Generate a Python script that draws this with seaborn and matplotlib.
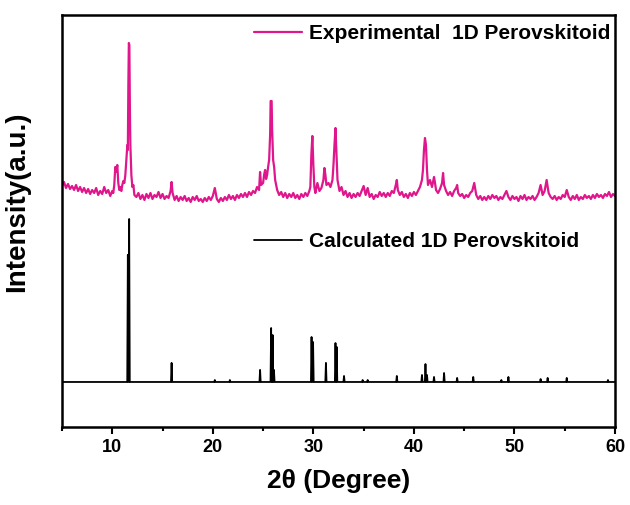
import numpy as np
import pandas as pd
import matplotlib
matplotlib.use("Agg")
import matplotlib.pyplot as plt
from matplotlib.ticker import MultipleLocator
import seaborn as sns

# experimental XRD trace (a.u.)
exp_two_theta = [
    5.0, 5.2, 5.4, 5.6, 5.8, 6.0, 6.2, 6.4, 6.6, 6.8, 7.0, 7.2, 7.4, 7.6, 7.8, 8.0, 8.2, 8.4, 8.6, 8.8, 9.0, 9.2, 9.4, 9.6, 9.8, 10.0,
    10.1, 10.2, 10.3, 10.4, 10.5, 10.6, 10.7, 10.8, 10.9, 11.0, 11.1, 11.2, 11.3, 11.4, 11.5, 11.55, 11.6, 11.65, 11.7, 11.75, 11.8, 11.9, 12.0, 12.1, 12.2,
    12.4, 12.6, 12.8, 13.0, 13.2, 13.4, 13.6, 13.8, 14.0, 14.2, 14.4, 14.6, 14.8, 15.0, 15.2, 15.4, 15.6, 15.8, 15.9, 16.0, 16.2,
    16.4, 16.6, 16.8, 17.0, 17.2, 17.4, 17.6, 17.8, 18.0, 18.2, 18.4, 18.6, 18.8, 19.0, 19.2, 19.4, 19.6, 19.8, 20.0,
    20.2, 20.4, 20.6, 20.8, 21.0, 21.2, 21.4, 21.6, 21.8, 22.0, 22.2, 22.4, 22.6, 22.8, 23.0, 23.2, 23.4, 23.6, 23.8, 24.0, 24.2, 24.4, 24.6,
    24.7, 24.8, 25.0, 25.1, 25.2, 25.3, 25.4, 25.5, 25.6, 25.7, 25.75, 25.85, 25.9, 26.0, 26.1, 26.2, 26.4,
    26.6, 26.8, 27.0, 27.2, 27.4, 27.6, 27.8, 28.0, 28.2, 28.4, 28.6, 28.8, 29.0, 29.2, 29.4, 29.6,
    29.7, 29.8, 29.9, 30.0, 30.1, 30.2, 30.4, 30.6, 30.8, 31.0, 31.1, 31.2, 31.3, 31.5, 31.7, 31.9, 32.0, 32.1, 32.2, 32.3, 32.4, 32.6, 32.8,
    33.0, 33.2, 33.4, 33.6, 33.8, 34.0, 34.2, 34.4, 34.6, 34.8,
    35.0, 35.2, 35.4, 35.6, 35.8, 36.0, 36.2, 36.4, 36.6, 36.8, 37.0, 37.2, 37.4, 37.6, 37.8, 38.0, 38.2, 38.3, 38.4,
    38.6, 38.8, 39.0, 39.2, 39.4, 39.6, 39.8, 40.0, 40.2, 40.4, 40.6, 40.8,
    40.9, 41.0, 41.1, 41.2, 41.3, 41.4, 41.6, 41.8, 42.0, 42.1, 42.2, 42.4, 42.6, 42.8, 42.9, 43.0,
    43.2, 43.4, 43.6, 43.8, 44.0, 44.2, 44.3, 44.4, 44.6, 44.8,
    45.0, 45.2, 45.4, 45.6, 45.8, 46.0, 46.2, 46.4, 46.6, 46.8, 47.0, 47.2, 47.4, 47.6, 47.8, 48.0, 48.2, 48.4, 48.6, 48.8,
    49.0, 49.2, 49.4, 49.6, 49.8, 50.0, 50.2, 50.4, 50.6, 50.8, 51.0, 51.2, 51.4, 51.6, 51.8, 52.0, 52.2, 52.4, 52.6, 52.8,
    53.0, 53.2, 53.4, 53.6, 53.8, 54.0, 54.2, 54.4, 54.6, 54.8, 55.0, 55.2, 55.4, 55.6, 55.8, 56.0, 56.2, 56.4, 56.6, 56.8,
    57.0, 57.2, 57.4, 57.6, 57.8, 58.0, 58.2, 58.4, 58.6, 58.8, 59.0, 59.2, 59.4, 59.6, 59.8, 60.0,
]
exp_counts = [
    19, 23, 17, 21, 16, 19, 15, 20, 14, 18, 13, 17, 12, 16, 11, 15, 12, 17, 10, 14, 11, 18, 12, 15, 9, 14,
    12, 20, 38, 33, 40, 22, 15, 18, 14, 20, 24, 22, 30, 45, 60, 55, 120, 162, 160, 100, 60, 30, 18, 20, 10,
    8, 12, 6, 10, 5, 11, 7, 12, 6, 10, 8, 13, 7, 11, 6, 9, 7, 14, 23, 12, 5,
    9, 4, 8, 5, 9, 4, 7, 3, 8, 5, 9, 4, 6, 3, 7, 4, 8, 5, 9,
    17, 6, 3, 7, 4, 8, 5, 10, 6, 9, 5, 10, 7, 11, 8, 12, 8, 13, 10, 14, 12, 18, 15,
    33, 20, 22, 30, 35, 26, 30, 38, 45, 70, 104, 104, 75, 45, 38, 25, 15,
    10, 13, 8, 12, 7, 11, 8, 12, 7, 10, 6, 11, 8, 12, 9, 14,
    18, 50, 69, 40, 18, 12, 22, 14, 17, 25, 37, 30, 20, 22, 18, 25, 40, 60, 77, 50, 25, 14, 18,
    10, 14, 8, 12, 7, 11, 8, 12, 9, 14,
    19, 10, 17, 8, 11, 6, 10, 8, 13, 9, 12, 8, 12, 9, 14, 12, 20, 25, 15,
    10, 13, 8, 11, 7, 12, 9, 13, 10, 14, 18, 25,
    35, 55, 67, 60, 35, 20, 25, 18, 28, 22, 15, 12, 16, 22, 32, 20,
    14, 10, 13, 9, 14, 17, 20, 12, 9, 11,
    7, 10, 8, 12, 14, 22, 10, 6, 9, 5, 8, 5, 9, 6, 10, 7, 9, 5, 8, 6,
    10, 14, 8, 5, 9, 6, 8, 4, 9, 6, 10, 5, 8, 6, 9, 5, 8, 12, 20, 10,
    14, 25, 12, 8, 6, 9, 5, 8, 6, 10, 8, 15, 8, 5, 9, 6, 10, 5, 8, 6,
    10, 7, 9, 6, 10, 7, 11, 8, 10, 7, 11, 9, 13, 8, 11, 9,
]

# calculated pattern: peak positions (2theta) and relative intensities (%)
calc_peaks = [11.55, 11.68, 15.9, 20.2, 21.7, 24.7, 25.8, 25.95, 26.08, 29.82, 29.97, 31.25,
              32.2, 32.32, 33.05, 34.9, 35.4, 38.3, 40.8, 41.15, 41.3, 42.0, 43.0, 44.3,
              45.9, 48.7, 49.4, 52.6, 53.3, 55.2, 59.3]
calc_rel_int = [78, 100, 11.7, 1.2, 1.2, 7.4, 33.1, 28.8, 7.4, 27.6, 24.5, 11.7,
                23.9, 21.5, 3.7, 1.2, 1.2, 3.7, 4.3, 11.0, 4.3, 3.1, 5.5, 2.5,
                3.1, 1.2, 3.1, 1.8, 2.5, 2.5, 1.2]

x_ticks = [10, 20, 30, 40, 50, 60]
exp_label = "Experimental  1D Perovskitoid"
calc_label = "Calculated 1D Perovskitoid"

pink = "#e0168c"

# stick profile for the calculated pattern
half_w = 0.06
cx, cy = [5.0], [0.0]
for p, h in zip(calc_peaks, calc_rel_int):
    cx += [p - half_w, p, p + half_w]
    cy += [0.0, h, 0.0]
cx.append(60.0)
cy.append(0.0)
calc_df = pd.DataFrame({"two_theta": cx, "intensity": np.array(cy) * 1.63 + 45})
exp_df = pd.DataFrame({"two_theta": exp_two_theta, "intensity": np.array(exp_counts) + 222})

sns.set_style("ticks")
plt.rcParams["font.family"] = ["Liberation Sans", "DejaVu Sans"]
plt.rcParams["font.weight"] = "bold"
plt.rcParams["text.color"] = "black"

fig = plt.figure(figsize=(6.3, 5.05), dpi=100)
ax = fig.add_axes([0.0984, 0.1545, 0.8778, 0.8158])

sns.lineplot(data=exp_df, x="two_theta", y="intensity", color=pink, linewidth=1.6,
             estimator=None, sort=False, label=exp_label, ax=ax)
sns.lineplot(data=calc_df, x="two_theta", y="intensity", color="black", linewidth=1.3,
             estimator=None, sort=False, label=calc_label, ax=ax)

ax.set_xlim(5, 60)
ax.set_ylim(0, 412)
ax.set_xticks(x_ticks)
ax.xaxis.set_minor_locator(MultipleLocator(5))
ax.set_yticks([])
ax.tick_params(axis="x", which="major", direction="out", length=5, width=1.5,
               labelsize=13, pad=4, labelcolor="black", color="black")
ax.tick_params(axis="x", which="minor", direction="out", length=3, width=1.5, color="black")
for s in ax.spines.values():
    s.set_visible(True)
    s.set_linewidth(1.8)
    s.set_color("black")

ax.set_xlabel("2θ (Degree)", fontsize=19, fontweight="bold", labelpad=9, color="black")
ax.set_ylabel("Intensity(a.u.)", fontsize=20, fontweight="bold", color="black")
ax.yaxis.set_label_coords(-0.057, 0.546)

handles, labels = ax.get_legend_handles_labels()
ax.get_legend().remove()
leg1 = ax.legend([handles[0]], [labels[0]], loc="center left", bbox_to_anchor=(0.347, 0.954),
                 frameon=False, fontsize=15, handlelength=2.3, handletextpad=0.35,
                 borderpad=0, borderaxespad=0)
ax.add_artist(leg1)
ax.legend([handles[1]], [labels[1]], loc="center left", bbox_to_anchor=(0.347, 0.449),
          frameon=False, fontsize=15, handlelength=2.3, handletextpad=0.35,
          borderpad=0, borderaxespad=0)

fig.savefig("out.png", dpi=100)
